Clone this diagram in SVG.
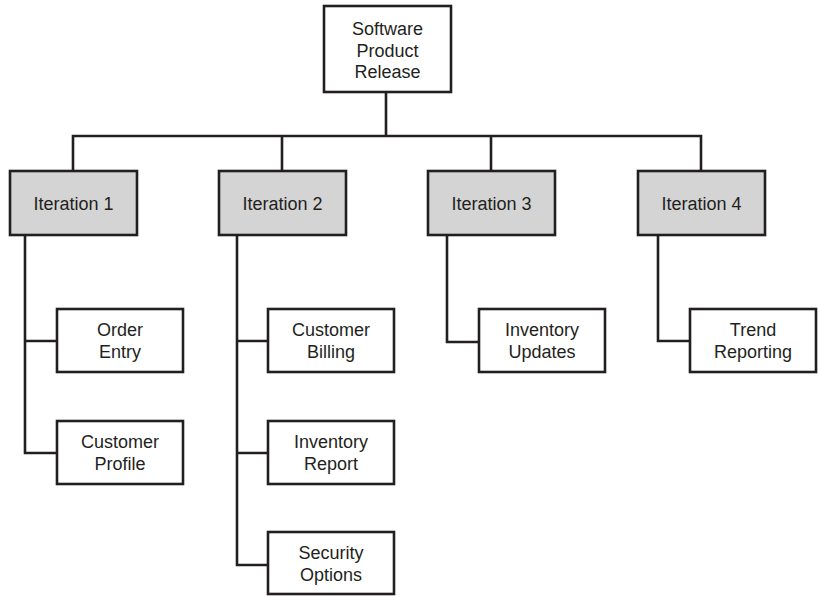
<svg xmlns="http://www.w3.org/2000/svg" width="818" height="596" viewBox="0 0 818 596">
<style>
.box{fill:#fff;stroke:#231f20;stroke-width:2.6}
.iter{fill:#d4d4d4;stroke:#231f20;stroke-width:2.6}
.conn{fill:none;stroke:#231f20;stroke-width:2.6}
text{font-family:"Liberation Sans",Arial,sans-serif;font-size:18px;fill:#231f20;text-anchor:middle}
</style>
<rect width="818" height="596" fill="#fff"/>
<g id="connectors">
<path class="conn" d="M386 92V136M73 171V136H701V171M282 136V171M491 136V171"/>
<path class="conn" d="M25 235V453H57M25 341H57"/>
<path class="conn" d="M237 235V565H268M237 341H268M237 453H268"/>
<path class="conn" d="M447 235V342H479"/>
<path class="conn" d="M658 235V341H690"/>
</g>
<g id="root"><rect class="box" x="324" y="6" width="127" height="86"/><text x="387.5" y="35">Software</text><text x="387.5" y="56.7">Product</text><text x="387.5" y="78.4">Release</text></g>
<g id="iter1"><rect class="iter" x="10" y="171" width="127" height="64"/><text x="73.5" y="209.5">Iteration 1</text></g>
<g id="iter2"><rect class="iter" x="219" y="171" width="127" height="64"/><text x="282.5" y="209.5">Iteration 2</text></g>
<g id="iter3"><rect class="iter" x="428" y="171" width="127" height="64"/><text x="491.5" y="209.5">Iteration 3</text></g>
<g id="iter4"><rect class="iter" x="638" y="171" width="127" height="64"/><text x="701.5" y="209.5">Iteration 4</text></g>
<g id="orderEntry"><rect class="box" x="57" y="309" width="126" height="63"/><text x="120" y="336">Order</text><text x="120" y="358">Entry</text></g>
<g id="customerProfile"><rect class="box" x="57" y="421" width="126" height="63"/><text x="120" y="448">Customer</text><text x="120" y="470">Profile</text></g>
<g id="customerBilling"><rect class="box" x="268" y="309" width="126" height="63"/><text x="331" y="336">Customer</text><text x="331" y="358">Billing</text></g>
<g id="inventoryReport"><rect class="box" x="268" y="421" width="126" height="63"/><text x="331" y="448">Inventory</text><text x="331" y="470">Report</text></g>
<g id="securityOptions"><rect class="box" x="268" y="532" width="126" height="62"/><text x="331" y="559">Security</text><text x="331" y="581">Options</text></g>
<g id="inventoryUpdates"><rect class="box" x="479" y="309" width="126" height="63"/><text x="542" y="336">Inventory</text><text x="542" y="358">Updates</text></g>
<g id="trendReporting"><rect class="box" x="690" y="309" width="126" height="63"/><text x="753" y="336">Trend</text><text x="753" y="358">Reporting</text></g>
</svg>
